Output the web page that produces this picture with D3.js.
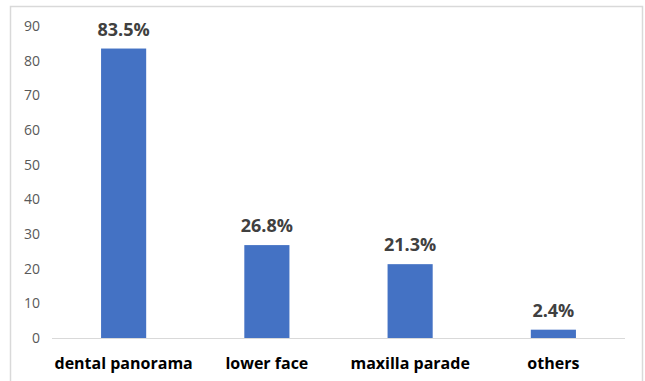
<!DOCTYPE html>
<html>
<head>
<meta charset="utf-8">
<script src="https://cdn.jsdelivr.net/npm/d3@7"></script>
<style>
  html, body { margin: 0; padding: 0; background: #fff; }
  svg { display: block; }
</style>
</head>
<body>
<svg id="chart" width="645" height="381"></svg>
<script>
// Share of cases by imaging region (%)
const categories = ["dental panorama", "lower face", "maxilla parade", "others"];
const values = [83.5, 26.8, 21.3, 2.4];
const valueLabels = ["83.5%", "26.8%", "21.3%", "2.4%"];
const yTicks = [0, 10, 20, 30, 40, 50, 60, 70, 80, 90];

const svg = d3.select("#chart");
const plot = { left: 52, right: 625, top: 26, bottom: 338 };
const font = "'Open Sans', 'Noto Sans', sans-serif";

// chart frame
svg.append("rect")
  .attr("x", 10.5).attr("y", 6.5)
  .attr("width", 632).attr("height", 420)
  .attr("fill", "#fff")
  .attr("stroke", "#d9d9d9")
  .attr("stroke-width", 1.5);

const x = d3.scaleBand()
  .domain(categories)
  .range([plot.left, plot.right])
  .paddingInner(0.685)
  .paddingOuter(0.3425);

const y = d3.scaleLinear()
  .domain([0, 90])
  .range([plot.bottom, plot.top]);

// y axis labels (no axis line, no gridlines)
const yAxis = d3.axisLeft(y).tickValues(yTicks).tickSize(0).tickPadding(0);
const gy = svg.append("g")
  .attr("transform", `translate(40,0)`)
  .call(yAxis);
gy.select(".domain").remove();
gy.selectAll("text")
  .attr("font-family", font)
  .attr("font-size", 14)
  .attr("fill", "#595959");

// baseline
svg.append("line")
  .attr("x1", plot.left).attr("x2", plot.right)
  .attr("y1", y(0) + 0.5).attr("y2", y(0) + 0.5)
  .attr("stroke", "#d9d9d9")
  .attr("stroke-width", 1);

// bars
svg.append("g").selectAll("rect")
  .data(values)
  .join("rect")
  .attr("x", (d, i) => x(categories[i]))
  .attr("width", x.bandwidth())
  .attr("y", d => y(d))
  .attr("height", d => y(0) - y(d))
  .attr("fill", "#4472c4");

// value labels
svg.append("g").selectAll("text")
  .data(values)
  .join("text")
  .attr("x", (d, i) => x(categories[i]) + x.bandwidth() / 2)
  .attr("y", d => y(d) - 13)
  .attr("text-anchor", "middle")
  .attr("font-family", font)
  .attr("font-size", 18)
  .attr("font-weight", "bold")
  .attr("fill", "#404040")
  .text((d, i) => valueLabels[i]);

// category labels
const xAxis = d3.axisBottom(x).tickSize(0).tickPadding(0);
const gx = svg.append("g")
  .attr("transform", `translate(0,${plot.bottom})`)
  .call(xAxis);
gx.select(".domain").remove();
gx.selectAll("text")
  .attr("dy", null)
  .attr("y", 31)
  .attr("font-family", font)
  .attr("font-size", 16)
  .attr("font-weight", "bold")
  .attr("fill", "#000");
</script>
</body>
</html>
